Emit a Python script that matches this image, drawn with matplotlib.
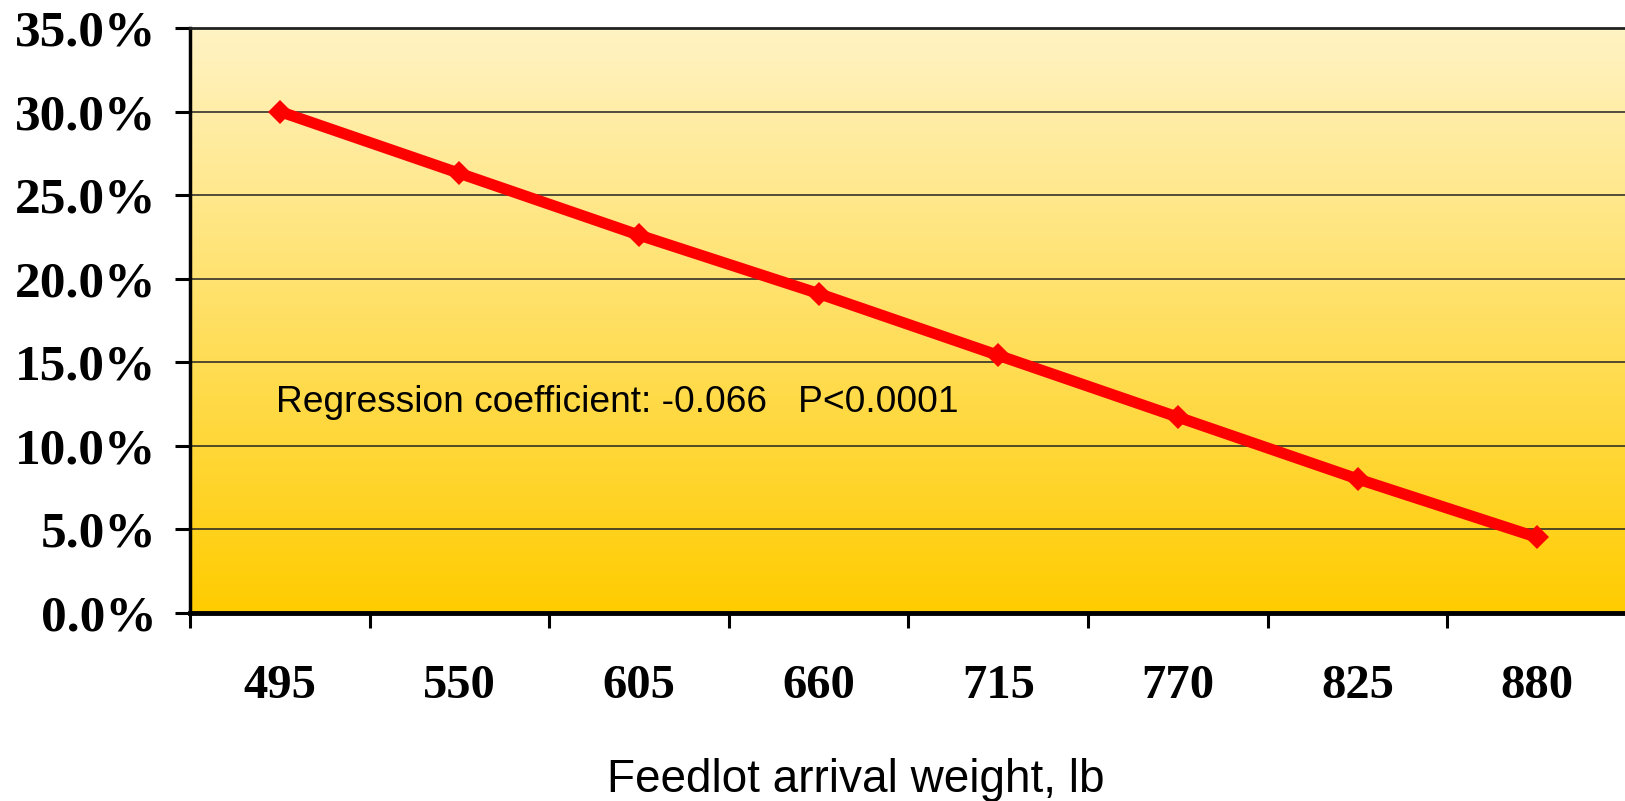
import numpy as np
import matplotlib
matplotlib.use('Agg')
import matplotlib.pyplot as plt
from matplotlib.colors import LinearSegmentedColormap

weights = ['495', '550', '605', '660', '715', '770', '825', '880']
pct = [30.0, 26.3, 22.6, 19.1, 15.4, 11.7, 8.0, 4.5]
y_ticks = [0, 5, 10, 15, 20, 25, 30, 35]
note = 'Regression coefficient: -0.066   P<0.0001'
x_label = 'Feedlot arrival weight, lb'

fig = plt.figure(figsize=(16.25, 8.01), dpi=100)
ax = fig.add_axes([0.1169, 0.2353, 0.8843, 0.7297])

# yellow background gradient, light at top
cmap = LinearSegmentedColormap.from_list('bg', ['#ffcc00', '#fff3c4'])
grad = np.linspace(0, 1, 256).reshape(-1, 1)
ax.imshow(grad, cmap=cmap, origin='lower', aspect='auto',
          extent=[0, 1, 0, 1], transform=ax.transAxes, zorder=0)

x = np.arange(len(weights))
ax.plot(x, pct, color='#ff0000', lw=8, marker='D', ms=12, mew=0,
        solid_capstyle='butt', zorder=3)

ax.set_xlim(-0.5, len(weights) - 0.5)
ax.set_ylim(0, 35)

ax.set_yticks(y_ticks)
ax.set_yticklabels(['%.1f%%' % v for v in y_ticks])
ax.set_xticks(np.arange(len(weights) + 1) - 0.5)
ax.set_xticklabels([])
ax.set_xticks(x, minor=True)
ax.set_xticklabels(weights, minor=True)

for lab in ax.get_yticklabels():
    lab.set_fontfamily('Liberation Serif')
    lab.set_fontweight('bold')
    lab.set_fontsize(37)
for lab in ax.get_xticklabels(minor=True):
    lab.set_fontfamily('Liberation Serif')
    lab.set_fontweight('bold')
    lab.set_fontsize(35)

ax.tick_params(axis='y', direction='out', length=11, width=2.2, pad=13)
ax.tick_params(axis='x', which='major', direction='out', length=11, width=2.2)
ax.tick_params(axis='x', which='minor', length=0, pad=37)

ax.set_axisbelow(True)
ax.yaxis.grid(True, color='#222222', lw=1.1)

ax.spines['left'].set_linewidth(2.5)
ax.spines['bottom'].set_linewidth(3.5)
ax.spines['top'].set_linewidth(2)
ax.spines['top'].set_color('#222222')
ax.spines['right'].set_visible(False)

ax.text(-0.02, 12.0, note, ha='left', va='baseline',
        fontfamily='Liberation Sans', fontsize=26.7, zorder=4)

fig.text(856 / 1625, 1 - 792 / 801, x_label, ha='center', va='baseline',
         fontfamily='Liberation Sans', fontsize=33)

fig.savefig('out.png', dpi=100)
